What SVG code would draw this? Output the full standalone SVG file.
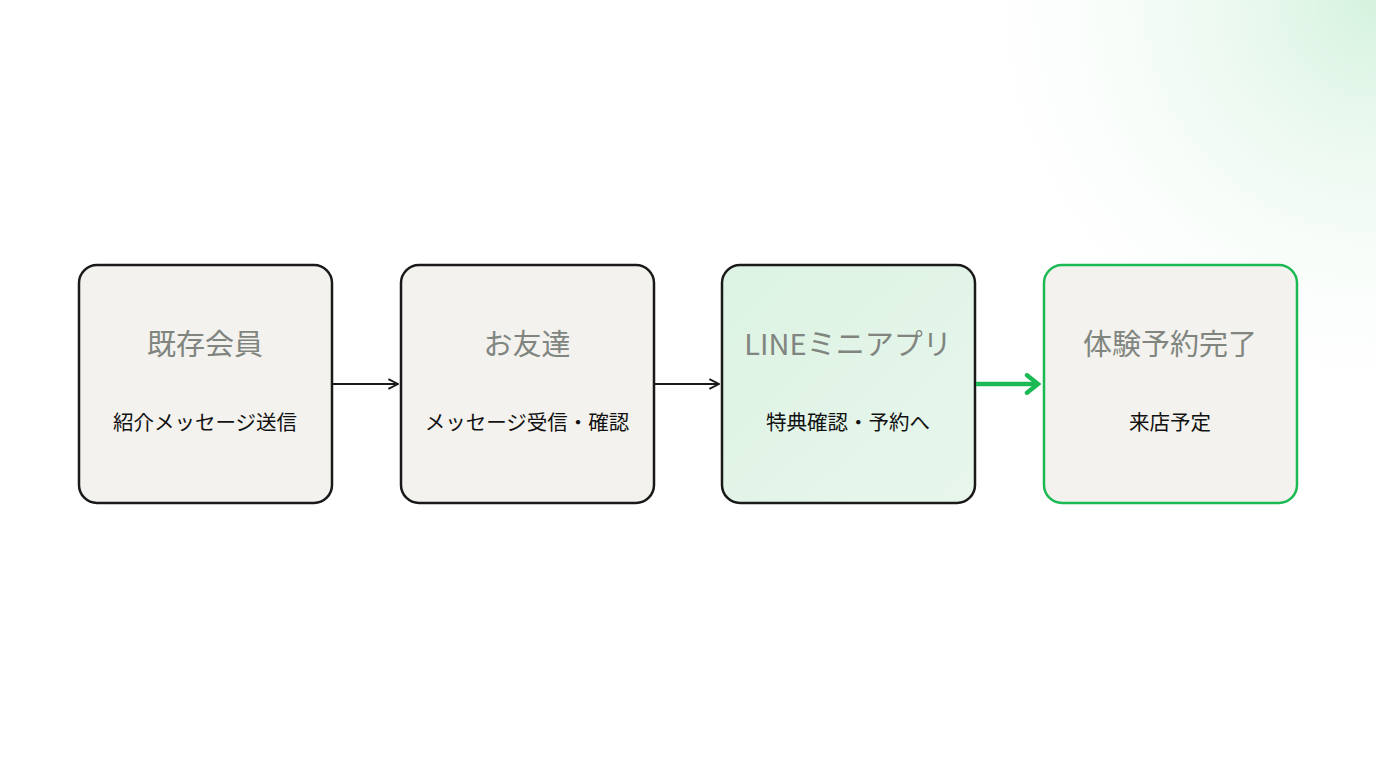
<svg xmlns="http://www.w3.org/2000/svg" width="1376" height="768" viewBox="0 0 1376 768">
<defs>
<radialGradient id="glow" cx="1376" cy="0" r="450" gradientUnits="userSpaceOnUse">
<stop offset="0" stop-color="#d4f2de"/><stop offset="1" stop-color="#ffffff" stop-opacity="0"/>
</radialGradient>
<linearGradient id="g3" x1="0" y1="0" x2="1" y2="1"><stop offset="0" stop-color="#dcf3e3"/><stop offset="1" stop-color="#e8f6ec"/></linearGradient>
<marker id="ah" viewBox="0 0 10 10" refX="9" refY="5" markerWidth="12" markerHeight="12" markerUnits="userSpaceOnUse" orient="auto"><path d="M1 1 L9 5 L1 9" fill="none" stroke="#1a1a1a" stroke-width="1.6"/></marker>
<marker id="ahg" viewBox="0 0 10 10" refX="8" refY="5" markerWidth="22" markerHeight="22" markerUnits="userSpaceOnUse" orient="auto"><path d="M3 1 L8 5 L3 9" fill="none" stroke="#1db954" stroke-width="2" stroke-linecap="round"/></marker>
</defs>
<style>
.box{fill:#f3f2ee;stroke:#1a1a1a;stroke-width:2.5}
.t{font-family:"Noto Sans CJK JP","Noto Sans",sans-serif;font-size:29px;fill:#808580;text-anchor:middle}
.s{font-family:"Noto Sans CJK JP","Noto Sans",sans-serif;font-size:20.5px;fill:#111;text-anchor:middle}
</style>
<rect width="1376" height="768" fill="#fff"/>
<rect width="1376" height="768" fill="url(#glow)"/>
<g id="n1"><rect class="box" x="79" y="265" width="253" height="238" rx="18"/><text class="t" x="205" y="355">既存会員</text><text class="s" x="205" y="430">紹介メッセージ送信</text></g>
<g id="n2"><rect class="box" x="401" y="265" width="253" height="238" rx="18"/><text class="t" x="527" y="355">お友達</text><text class="s" x="527" y="430">メッセージ受信・確認</text></g>
<g id="n3"><rect class="box" x="722" y="265" width="253" height="238" rx="18" style="fill:url(#g3)"/><text class="t" x="848" y="355">LINEミニアプリ</text><text class="s" x="848" y="430">特典確認・予約へ</text></g>
<g id="n4"><rect class="box" x="1044" y="265" width="253" height="238" rx="18" style="stroke:#1db954"/><text class="t" x="1170" y="355">体験予約完了</text><text class="s" x="1170" y="430">来店予定</text></g>
<g id="connectors">
<line x1="333" y1="384" x2="398" y2="384" stroke="#1a1a1a" stroke-width="1.8" marker-end="url(#ah)"/>
<line x1="655" y1="384" x2="719" y2="384" stroke="#1a1a1a" stroke-width="1.8" marker-end="url(#ah)"/>
<line x1="976" y1="384" x2="1038" y2="384" stroke="#1db954" stroke-width="4.5" marker-end="url(#ahg)"/>
</g>
</svg>
